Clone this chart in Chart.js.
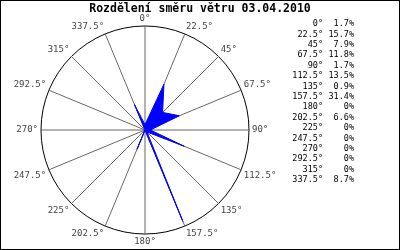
<!DOCTYPE html>
<html>
<head>
<meta charset="utf-8">
<script src="https://cdn.jsdelivr.net/npm/chart.js@4/dist/chart.umd.min.js"></script>
<style>
  body { margin: 0; background: #fff; }
  #grafico { display: block; }
</style>
</head>
<body>
<canvas id="grafico" width="400" height="250"></canvas>
<script>
/* ===== DADOS ===== */
const titulo = "Rozdělení směru větru 03.04.2010";
const direcoes = ["0°", "22.5°", "45°", "67.5°", "90°", "112.5°", "135°", "157.5°",
                  "180°", "202.5°", "225°", "247.5°", "270°", "292.5°", "315°", "337.5°"];
const porcentagens = [1.7, 15.7, 7.9, 11.8, 1.7, 13.5, 0.9, 31.4,
                      0, 6.6, 0, 0, 0, 0, 0, 8.7];
const escala_max = 33;

/* ===== TEXTOS EXTRAS ===== */
const fonte_mono = '"DejaVu Sans Mono", "Liberation Mono", monospace';

const plugin_extras = {
  id: 'extras',
  afterDraw(chart) {
    const ctx = chart.ctx;
    const escala = chart.scales.r;
    ctx.save();

    // moldura
    ctx.strokeStyle = '#000';
    ctx.lineWidth = 1;
    ctx.strokeRect(0.5, 0.5, 399, 249);

    // titulo
    ctx.fillStyle = '#000';
    ctx.font = 'bold 11.5px ' + fonte_mono;
    ctx.textAlign = 'center';
    ctx.textBaseline = 'middle';
    ctx.fillText(titulo, 200, 9);

    // rotulos em volta do circulo
    ctx.font = '9px ' + fonte_mono;
    ctx.fillStyle = '#444';
    for (let i = 0; i < direcoes.length; i++) {
      const angulo = i * 360 / direcoes.length;
      const pos = escala.getPointPosition(i, escala.drawingArea + 3);
      if (angulo === 0 || angulo === 180) ctx.textAlign = 'center';
      else if (angulo < 180) ctx.textAlign = 'left';
      else ctx.textAlign = 'right';
      if (angulo === 90 || angulo === 270) ctx.textBaseline = 'middle';
      else if (angulo < 90 || angulo > 270) ctx.textBaseline = 'bottom';
      else ctx.textBaseline = 'top';
      ctx.fillText(direcoes[i], pos.x, pos.y);
    }

    // tabela da direita
    ctx.font = '8.5px ' + fonte_mono;
    ctx.fillStyle = '#000';
    ctx.textBaseline = 'middle';
    ctx.textAlign = 'right';
    for (let i = 0; i < direcoes.length; i++) {
      const y = 24 + i * 10.4;
      ctx.fillText(direcoes[i], 323, y);
      ctx.fillText(String(porcentagens[i]) + '%', 354, y);
    }
    ctx.restore();
  }
};

/* ===== GRAFICO ===== */
const dataset_vento = {
  data: porcentagens,
  fill: true,
  backgroundColor: '#0000ff',
  borderColor: '#0000ff',
  borderWidth: 1,
  pointRadius: 0,
  tension: 0
};

const chart_config = {
  type: 'radar',
  data: { labels: direcoes, datasets: [dataset_vento] },
  options: {
    responsive: false,
    animation: false,
    layout: { padding: { left: 41, right: 151, top: 26, bottom: 16 } },
    plugins: { legend: { display: false }, tooltip: { enabled: false }, title: { display: false } },
    scales: {
      r: {
        min: 0,
        max: escala_max,
        ticks: { display: false, stepSize: escala_max },
        grid: { circular: true, color: '#000', lineWidth: 1 },
        angleLines: { color: '#666', lineWidth: 1 },
        pointLabels: { display: false }
      }
    }
  },
  plugins: [plugin_extras]
};

const grafico = new Chart(document.getElementById('grafico'), chart_config);
</script>
</body>
</html>
